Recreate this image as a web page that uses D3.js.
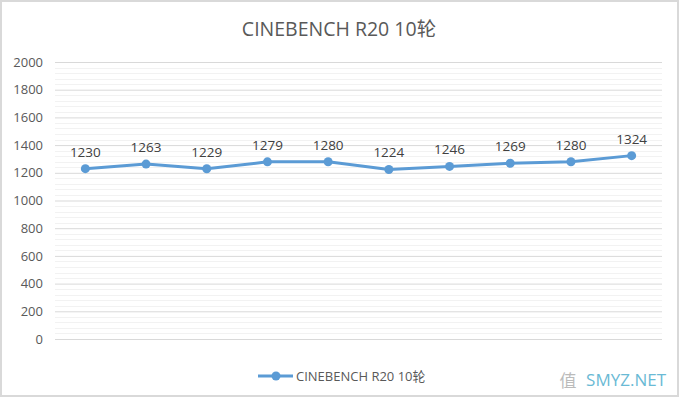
<!DOCTYPE html>
<meta charset="utf-8">
<title>CINEBENCH R20 10轮</title>
<script src="https://d3js.org/d3.v7.min.js"></script>
<style>
body { margin: 0; background: #fff; }
text { font-family: "Open Sans", "Noto Sans CJK SC", sans-serif; }
</style>
<body>
<div id="my_dataviz"></div>
<script>
// chart data
var rounds = ["1", "2", "3", "4", "5", "6", "7", "8", "9", "10"];
var scores = [1230, 1263, 1229, 1279, 1280, 1224, 1246, 1269, 1280, 1324];
var yTicks = [0, 200, 400, 600, 800, 1000, 1200, 1400, 1600, 1800, 2000];
var seriesName = "CINEBENCH R20 10轮";

var W = 680, H = 398;
var margin = {top: 62, right: 18, bottom: 59, left: 55},
    width = 662 - margin.left,
    height = 339 - margin.top;

var root = d3.select("#my_dataviz")
  .append("svg")
    .attr("width", W)
    .attr("height", H);

// outer border
root.append("rect")
  .attr("x", 1).attr("y", 1)
  .attr("width", W - 3).attr("height", H - 3)
  .attr("fill", "#fff")
  .attr("stroke", "#d9d9d9")
  .attr("stroke-width", 2);

// title
root.append("text")
  .attr("x", 339).attr("y", 36)
  .attr("text-anchor", "middle")
  .attr("font-size", 19.5)
  .attr("fill", "#595959")
  .text(seriesName);

var svg = root.append("g")
  .attr("transform", "translate(" + margin.left + "," + margin.top + ")");

var x = d3.scaleBand()
  .domain(rounds)
  .range([0, width]);

var y = d3.scaleLinear()
  .domain([0, 2000])
  .range([height, 0]);

// minor gridlines
svg.append("g")
  .selectAll("line")
  .data(d3.range(0, 2001, 40).filter(function(v) { return v % 200 != 0; }))
  .enter()
  .append("line")
    .attr("x1", 0).attr("x2", width)
    .attr("y1", function(d) { return Math.round(y(d)) + 0.5; })
    .attr("y2", function(d) { return Math.round(y(d)) + 0.5; })
    .attr("stroke", "#f2f2f2");

// major gridlines + labels
var yAxis = svg.append("g")
  .call(d3.axisLeft(y).tickValues(yTicks).tickFormat(d3.format("d"))
    .tickSize(-width).tickPadding(12));
yAxis.select(".domain").remove();
yAxis.selectAll(".tick line")
  .attr("stroke", "#d9d9d9");
yAxis.selectAll(".tick text")
  .attr("font-size", 13)
  .attr("font-family", "Open Sans, sans-serif")
  .attr("fill", "#595959");

var cx = function(d, i) { return x(rounds[i]) + x.bandwidth() / 2; };

// line
svg.append("path")
  .datum(scores)
  .attr("fill", "none")
  .attr("stroke", "#5b9bd5")
  .attr("stroke-width", 3)
  .attr("stroke-linejoin", "round")
  .attr("d", d3.line()
    .x(cx)
    .y(function(d) { return y(d); }));

// markers
svg.append("g")
  .selectAll("circle")
  .data(scores)
  .enter()
  .append("circle")
    .attr("cx", cx)
    .attr("cy", function(d) { return y(d); })
    .attr("r", 4.5)
    .attr("fill", "#5b9bd5");

// data labels
svg.append("g")
  .selectAll("text")
  .data(scores)
  .enter()
  .append("text")
    .attr("x", cx)
    .attr("y", function(d) { return y(d) - 12; })
    .attr("text-anchor", "middle")
    .attr("font-size", 13.5)
    .attr("fill", "#404040")
    .text(function(d) { return d; });

// legend
var legend = root.append("g").attr("transform", "translate(258,376)");
legend.append("line")
  .attr("x1", 0).attr("x2", 35)
  .attr("stroke", "#5b9bd5").attr("stroke-width", 3);
legend.append("circle")
  .attr("cx", 18).attr("r", 4.5)
  .attr("fill", "#5b9bd5");
legend.append("text")
  .attr("x", 38).attr("y", 4.5)
  .attr("font-size", 13)
  .attr("fill", "#595959")
  .text(seriesName);

// watermark
root.append("text")
  .attr("x", 666).attr("y", 386)
  .attr("text-anchor", "end")
  .attr("font-size", 17)
  .attr("fill", "#2a9dc4")
  .attr("opacity", 0.7)
  .text("SMYZ.NET");
root.append("text")
  .attr("x", 568).attr("y", 387)
  .attr("text-anchor", "middle")
  .attr("font-size", 17)
  .attr("fill", "#bbb")
  .text("值");
</script>
</body>
